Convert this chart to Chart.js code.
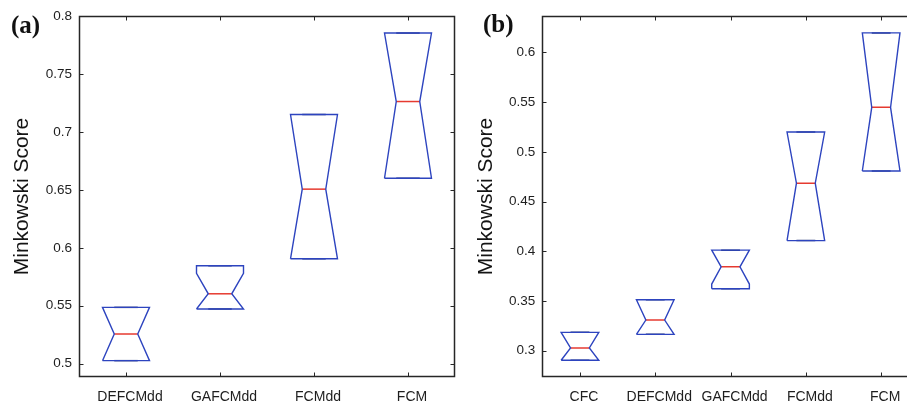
<!DOCTYPE html>
<html>
<head>
<meta charset="utf-8">
<script src="https://cdn.jsdelivr.net/npm/chart.js@4.4.1/dist/chart.umd.min.js"></script>
<style>
  html, body { margin: 0; padding: 0; background: #fff; width: 907px; height: 402px; overflow: hidden; position: relative; }
  .wrap { position: absolute; top: 0; height: 402px; }
  .panel { position: absolute; font-family: "Liberation Serif", serif; font-weight: bold; font-size: 25px; line-height: 1; color: #111; }
</style>
</head>
<body>
<div class="wrap" style="left:0;width:460px;"><canvas id="ca" width="460" height="402"></canvas></div>
<div class="wrap" style="left:460px;width:460px;"><canvas id="cb" width="460" height="402"></canvas></div>
<div class="panel" style="left:11px;top:12px;">(a)</div>
<div class="panel" style="left:483px;top:11px;">(b)</div>
<script>
// ---------- Data panel (a) ----------
const catsA  = ['DEFCMdd', 'GAFCMdd', 'FCMdd', 'FCM'];
const q1A    = [0.5026, 0.5472, 0.5905, 0.6600];
const medA   = [0.5256, 0.5603, 0.6506, 0.7262];
const q3A    = [0.5486, 0.5845, 0.7150, 0.7853];
const nLoA   = [0.5026, 0.5472, 0.5905, 0.6600]; // visible notch ends (clipped to box)
const nHiA   = [0.5486, 0.5779, 0.7150, 0.7853];
const yTicksA = [0.5, 0.55, 0.6, 0.65, 0.7, 0.75, 0.8];
const yRangeA = [0.4885, 0.8];

// ---------- Data panel (b) ----------
const catsB  = ['CFC', 'DEFCMdd', 'GAFCMdd', 'FCMdd', 'FCM'];
const q1B    = [0.2904, 0.3165, 0.3624, 0.4108, 0.4808];
const medB   = [0.3028, 0.3309, 0.3844, 0.4685, 0.5448];
const q3B    = [0.3185, 0.3513, 0.4012, 0.5200, 0.6197];
const nLoB   = [0.2904, 0.3165, 0.3671, 0.4108, 0.4808];
const nHiB   = [0.3185, 0.3513, 0.4012, 0.5200, 0.6197];
const yTicksB = [0.3, 0.35, 0.4, 0.45, 0.5, 0.55, 0.6];
const yRangeB = [0.2736, 0.6367];

const BOX = '#2d44bf', CAP = '#33407e', MED = '#e63a30', AX = '#262626';
const W = 0.25, NW = 0.125;

function buildDatasets(q1, med, q3, nLo, nHi) {
  const ds = [];
  for (let k = 0; k < q1.length; k++) {
    const i = k + 1;
    ds.push({
      data: [
        {x: i - W, y: q1[k]}, {x: i - W, y: nLo[k]}, {x: i - NW, y: med[k]},
        {x: i - W, y: nHi[k]}, {x: i - W, y: q3[k]}, {x: i + W, y: q3[k]},
        {x: i + W, y: nHi[k]}, {x: i + NW, y: med[k]}, {x: i + W, y: nLo[k]},
        {x: i + W, y: q1[k]}, {x: i - W, y: q1[k]}
      ],
      borderColor: BOX, borderWidth: 1.4
    });
    ds.push({ data: [{x: i - NW, y: q3[k]}, {x: i + NW, y: q3[k]}], borderColor: CAP, borderWidth: 1.5 });
    ds.push({ data: [{x: i - NW, y: q1[k]}, {x: i + NW, y: q1[k]}], borderColor: CAP, borderWidth: 1.5 });
    ds.push({ data: [{x: i - NW, y: med[k]}, {x: i + NW, y: med[k]}], borderColor: MED, borderWidth: 1.5 });
  }
  ds.forEach(d => { d.showLine = true; d.pointRadius = 0; d.pointHoverRadius = 0; d.fill = false; d.tension = 0; d.borderJoinStyle = 'miter'; });
  return ds;
}

const framePlugin = {
  id: 'frame',
  afterDraw(chart) {
    const {ctx, chartArea: a} = chart;
    const xs = chart.scales.x, ys = chart.scales.y;
    ctx.save();
    ctx.strokeStyle = AX;
    ctx.lineWidth = 1.5;
    const L = Math.round(a.left) + 0.5, R = Math.round(a.right) - 0.5;
    const T = Math.round(a.top) + 0.5, B = Math.round(a.bottom) - 0.5;
    ctx.strokeRect(L, T, R - L, B - T);
    ctx.lineWidth = 1;
    ctx.beginPath();
    xs.ticks.forEach(t => {
      const px = Math.round(xs.getPixelForValue(t.value)) + 0.5;
      ctx.moveTo(px, B); ctx.lineTo(px, B - 4);
      ctx.moveTo(px, T); ctx.lineTo(px, T + 4);
    });
    ys.ticks.forEach(t => {
      const py = Math.round(ys.getPixelForValue(t.value)) + 0.5;
      ctx.moveTo(L, py); ctx.lineTo(L + 4, py);
      ctx.moveTo(R, py); ctx.lineTo(R - 4, py);
    });
    ctx.stroke();
    ctx.restore();
  }
};

function makeChart(id, cats, q1, med, q3, nLo, nHi, yTicks, yRange, yAxisW, titlePad, padRight) {
  return new Chart(document.getElementById(id), {
    type: 'scatter',
    data: { datasets: buildDatasets(q1, med, q3, nLo, nHi) },
    options: {
      responsive: false,
      animation: false,
      layout: { padding: { top: 16, right: padRight, bottom: 0, left: 0 } },
      plugins: { legend: { display: false }, tooltip: { enabled: false } },
      scales: {
        x: {
          type: 'linear', min: 0.5, max: cats.length + 0.5,
          afterBuildTicks: s => { s.ticks = cats.map((c, i) => ({value: i + 1})); },
          afterFit: s => { s.height = 25; },
          grid: { display: false, drawTicks: false }, border: { display: false },
          ticks: {
            callback: (v) => cats[Math.round(v) - 1] || '',
            font: { family: 'Liberation Sans', size: 14 }, color: '#1e1e1e',
            padding: 12, labelOffset: 4, maxRotation: 0, autoSkip: false
          }
        },
        y: {
          type: 'linear', min: yRange[0], max: yRange[1],
          afterBuildTicks: s => { s.ticks = yTicks.map(v => ({value: v})); },
          afterFit: s => { s.width = yAxisW; },
          grid: { display: false, drawTicks: false }, border: { display: false },
          ticks: {
            callback: (v) => { const i = yTicks.findIndex(t => Math.abs(t - v) < 1e-9); return i >= 0 ? String(yTicks[i]) : ''; },
            font: { family: 'Liberation Sans', size: 13.5 }, color: '#1e1e1e', padding: 7
          },
          title: {
            display: true, text: 'Minkowski Score', color: '#141414',
            font: { family: 'Liberation Sans', size: 21 }, padding: { top: titlePad, bottom: 0 }
          }
        }
      }
    },
    plugins: [framePlugin]
  });
}

makeChart('ca', catsA, q1A, medA, q3A, nLoA, nHiA, yTicksA, yRangeA, 79, 9.4, 5);
makeChart('cb', catsB, q1B, medB, q3B, nLoB, nHiB, yTicksB, yRangeB, 82.3, 13.4, 1.2);
</script>
</body>
</html>
